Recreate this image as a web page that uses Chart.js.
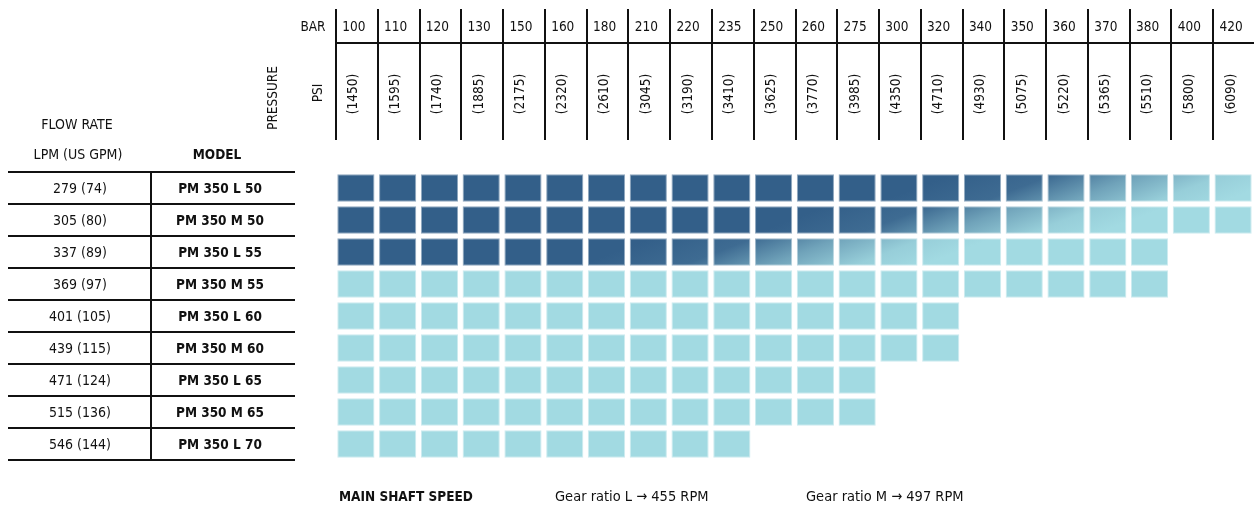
<!DOCTYPE html>
<html>
<head>
<meta charset="utf-8">
<title>PM 350 pressure / flow table</title>
<script src="https://cdn.jsdelivr.net/npm/chart.js@4.4.1/dist/chart.umd.min.js"></script>
<style>
  html, body { margin: 0; padding: 0; background: #fff; }
  #wrap { width: 1254px; height: 507px; }
</style>
</head>
<body>
<div id="wrap"><canvas id="pressureChart" width="1254" height="507"></canvas></div>
<script>
// Columns: working pressure
const pressureBar = [100, 110, 120, 130, 150, 160, 180, 210, 220, 235, 250, 260, 275, 300, 320, 340, 350, 360, 370, 380, 400, 420];
const pressurePsi = [1450, 1595, 1740, 1885, 2175, 2320, 2610, 3045, 3190, 3410, 3625, 3770, 3985, 4350, 4710, 4930, 5075, 5220, 5365, 5510, 5800, 6090];

// Rows: pump models
const models = ['PM 350 L 50', 'PM 350 M 50', 'PM 350 L 55', 'PM 350 M 55', 'PM 350 L 60', 'PM 350 M 60', 'PM 350 L 65', 'PM 350 M 65', 'PM 350 L 70'];
const flowLpm = [279, 305, 337, 369, 401, 439, 471, 515, 546];
const flowGpm = [74, 80, 89, 97, 105, 115, 124, 136, 144];
const maxPressure = [420, 420, 380, 380, 320, 320, 275, 275, 235];
// column where the dark zone fades out (null = no dark zone)
const darkFadeAt = [17.5, 14.5, 10.3, null, null, null, null, null, null];

const DARK = [51, 95, 137];
const LIGHT = [162, 218, 226];
const INK = '#111';
const FONT = "'Liberation Sans Narrow', 'DejaVu Sans Condensed', 'Roboto Condensed', 'Liberation Sans', sans-serif";

function rgba(c, a) {
  return 'rgba(' + c[0] + ',' + c[1] + ',' + c[2] + ',' + a + ')';
}
function mix(t) {
  return LIGHT.map((v, i) => Math.round(DARK[i] + (v - DARK[i]) * t));
}

// diagonal fade from dark to light, one per row
function cellFill(context, row, alpha) {
  const chart = context.chart;
  if (!chart.chartArea || darkFadeAt[row] === null) return rgba(LIGHT, alpha);
  const x = chart.scales.x, y = chart.scales.y;
  const cx = x.getPixelForValue(darkFadeAt[row]);
  const cy = y.getPixelForValue(row + 0.5);
  const ux = 0.36, uy = 0.93, half = 62;
  const g = chart.ctx.createLinearGradient(cx - ux * half, cy - uy * half, cx + ux * half, cy + uy * half);
  g.addColorStop(0, rgba(DARK, alpha));
  g.addColorStop(0.3, rgba(mix(0.1), alpha));
  g.addColorStop(0.55, rgba(mix(0.55), alpha));
  g.addColorStop(0.8, rgba(mix(0.9), alpha));
  g.addColorStop(1, rgba(LIGHT, alpha));
  return g;
}

const datasets = models.map((m, r) => ({
  label: m,
  data: pressureBar.map(p => (p <= maxPressure[r] ? [r + 0.07, r + 0.93] : null)),
  grouped: false,
  barPercentage: 0.89,
  categoryPercentage: 1,
  borderWidth: 1,
  borderSkipped: false,
  backgroundColor: ctx => cellFill(ctx, r, 1),
  borderColor: ctx => cellFill(ctx, r, 0.55)
}));

function txt(ctx, s, x, y, opts) {
  opts = opts || {};
  ctx.save();
  ctx.font = (opts.bold ? 'bold ' : '') + (opts.size || 14) + 'px ' + FONT;
  ctx.textAlign = opts.align || 'center';
  ctx.textBaseline = 'middle';
  ctx.translate(x, y);
  if (opts.rotate) ctx.rotate(-Math.PI / 2);
  ctx.fillText(s, 0, 0);
  ctx.restore();
}

const tablePlugin = {
  id: 'pressureTable',
  afterDraw(chart) {
    const { ctx, scales: { x, y } } = chart;
    const colEdge = c => Math.round(x.getPixelForValue(c - 0.5)) + 1;
    const rowEdge = r => Math.round(y.getPixelForValue(r));
    ctx.save();
    ctx.fillStyle = INK;
    ctx.strokeStyle = INK;
    ctx.lineWidth = 2;

    // pressure header grid
    ctx.beginPath();
    pressureBar.forEach((p, c) => {
      ctx.moveTo(colEdge(c), 9);
      ctx.lineTo(colEdge(c), 140);
    });
    ctx.moveTo(colEdge(0), 43);
    ctx.lineTo(chart.width, 43);
    ctx.stroke();

    txt(ctx, 'BAR', 313, 27, { size: 13.5 });
    txt(ctx, 'PSI', 318, 93, { rotate: true, size: 13.5 });
    txt(ctx, 'PRESSURE', 273, 98, { rotate: true, size: 13.5 });
    pressureBar.forEach((p, c) => {
      const cx = x.getPixelForValue(c) - 2;
      txt(ctx, String(p), cx, 27, { size: 13.5 });
      txt(ctx, '(' + pressurePsi[c] + ')', cx, 94, { rotate: true, size: 13.5 });
    });

    // model table on the left
    txt(ctx, 'FLOW RATE', 77, 125, { size: 14 });
    txt(ctx, 'LPM (US GPM)', 78, 155, { size: 14 });
    txt(ctx, 'MODEL', 217, 155, { bold: true, size: 13.5 });
    ctx.beginPath();
    for (let r = 0; r <= models.length; r++) {
      ctx.moveTo(8, rowEdge(r));
      ctx.lineTo(295, rowEdge(r));
    }
    ctx.moveTo(151, rowEdge(0));
    ctx.lineTo(151, rowEdge(models.length));
    ctx.stroke();
    models.forEach((m, r) => {
      const cy = y.getPixelForValue(r + 0.5) + 1;
      txt(ctx, flowLpm[r] + ' (' + flowGpm[r] + ')', 80, cy, { size: 14 });
      txt(ctx, m, 220, cy, { bold: true, size: 13.5 });
    });

    // footer
    txt(ctx, 'MAIN SHAFT SPEED', 339, 497, { bold: true, size: 13.5, align: 'left' });
    txt(ctx, 'Gear ratio L \u2192 455 RPM', 555, 497, { size: 14.5, align: 'left' });
    txt(ctx, 'Gear ratio M \u2192 497 RPM', 806, 497, { size: 14.5, align: 'left' });
    ctx.restore();
  }
};

new Chart(document.getElementById('pressureChart'), {
  type: 'bar',
  data: { labels: pressureBar.map(String), datasets: datasets },
  options: {
    responsive: false,
    animation: false,
    layout: { padding: { left: 335, top: 172, right: 0, bottom: 47 } },
    scales: {
      x: { type: 'category', display: false, offset: true },
      y: { type: 'linear', min: 0, max: models.length, reverse: true, display: false }
    },
    plugins: {
      legend: { display: false },
      tooltip: {
        callbacks: {
          title: items => items[0].dataset.label,
          label: item => pressureBar[item.dataIndex] + ' bar (' + pressurePsi[item.dataIndex] + ' psi)'
        }
      }
    }
  },
  plugins: [tablePlugin]
});
</script>
</body>
</html>
